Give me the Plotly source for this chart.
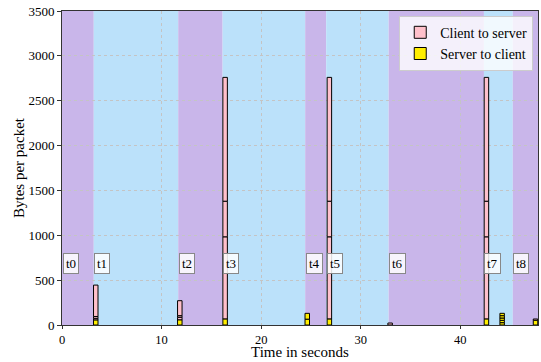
import plotly.graph_objects as go

# Phase boundaries (seconds) and labels
phase_labels = ["t0", "t1", "t2", "t3", "t4", "t5", "t6", "t7", "t8"]
phase_edges = [0, 3.19, 11.67, 16.13, 24.42, 26.53, 32.8, 42.37, 45.27, 47.8]
phase_colors = ["#c9b6ea", "#bbe1fa"] * 5

# Bursts: time (center) and per-packet sizes
burst_times = [3.39, 11.83, 16.38, 24.63, 26.85, 32.95, 42.62, 44.2, 47.55]
server_packets = [
    [55], [56], [66], [65, 65], [66], [], [66], [26, 26, 26, 26, 26], [52]
]
client_packets = [
    [20, 20, 350], [30, 18, 167], [917, 397, 1380], [], [917, 397, 1380],
    [22], [917, 397, 1380], [], [15]
]

y_ticks = [0, 500, 1000, 1500, 2000, 2500, 3000, 3500]
x_ticks = [0, 10, 20, 30, 40]

FONT = "Liberation Serif"
BAR_W = 0.45

# Build stacked segments (server at bottom, client on top)
sx, sy, sb, cx, cy, cb = [], [], [], [], [], []
for t, sp, cp in zip(burst_times, server_packets, client_packets):
    base = 0
    for v in sp:
        sx.append(t); sy.append(v); sb.append(base); base += v
    for v in cp:
        cx.append(t); cy.append(v); cb.append(base); base += v

fig = go.Figure()
fig.add_trace(go.Bar(x=cx, y=cy, base=cb, width=BAR_W, name="Client to server",
                     marker=dict(color="#ffc0cb", line=dict(color="black", width=1))))
fig.add_trace(go.Bar(x=sx, y=sy, base=sb, width=BAR_W, name="Server to client",
                     marker=dict(color="#ffee00", line=dict(color="black", width=1))))

shapes = []
annotations = []
for i, lab in enumerate(phase_labels):
    x0, x1 = phase_edges[i], phase_edges[i + 1]
    shapes.append(dict(type="rect", xref="x", yref="y", x0=x0, x1=x1, y0=0, y1=3500,
                       fillcolor=phase_colors[i], line=dict(width=0), layer="below"))
    annotations.append(dict(x=x0 + 0.05, y=690, xref="x", yref="y", text=lab,
                            showarrow=False, xanchor="left", yanchor="middle",
                            font=dict(family=FONT, size=13, color="black"),
                            bgcolor="rgba(255,255,255,0.85)", bordercolor="#888888",
                            borderwidth=1, borderpad=2))

# x-axis title as an annotation for precise placement
annotations.append(dict(x=0.5, y=-0.114, xref="paper", yref="paper", text="Time in seconds",
                        showarrow=False, xanchor="center", yanchor="bottom", borderpad=0,
                        font=dict(family=FONT, size=15, color="black")))

fig.update_layout(
    width=541, height=362,
    margin=dict(l=62, r=3, t=11, b=37),
    plot_bgcolor="white", paper_bgcolor="white",
    barmode="overlay",
    shapes=shapes, annotations=annotations,
    font=dict(family=FONT, size=13, color="black"),
    legend=dict(x=0.99, y=0.985, xanchor="right", yanchor="top",
                bgcolor="rgba(255,255,255,0.8)", bordercolor="#cccccc", borderwidth=1,
                font=dict(family=FONT, size=14), traceorder="normal"),
    xaxis=dict(range=[0, 47.8], tickvals=x_ticks, showgrid=True, gridcolor="#c4c4c4",
               griddash="dot", gridwidth=0.8, showline=True, linecolor="#333333",
               linewidth=1, mirror=True, ticks="outside", ticklen=3, tickcolor="#333333",
               zeroline=False, automargin=False, tickfont=dict(size=12.5)),
    yaxis=dict(range=[0, 3500], tickvals=y_ticks, showgrid=True, gridcolor="#c4c4c4",
               griddash="dot", gridwidth=0.8, showline=True, linecolor="#333333",
               linewidth=1, mirror=True, ticks="outside", ticklen=4, tickcolor="#333333",
               zeroline=False, automargin=False,
               title=dict(text="Bytes per packet", font=dict(family=FONT, size=15), standoff=0)),
)

fig.write_html("out.html", config={"displayModeBar": False},
               post_script="document.body.style.margin='0';document.body.style.padding='0';")
